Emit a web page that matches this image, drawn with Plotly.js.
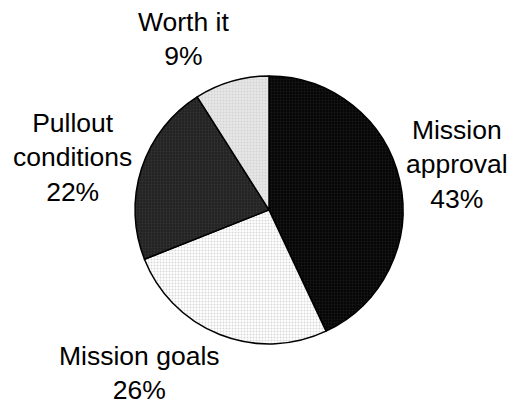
<!DOCTYPE html>
<html>
<head>
<meta charset="utf-8">
<script src="https://cdn.plot.ly/plotly-3.0.1.min.js"></script>
<style>html,body{margin:0;padding:0;background:#fff;}#chart{width:509px;height:406px;}</style>
</head>
<body>
<div id="chart"></div>
<script>
const labels = ["Mission approval", "Mission goals", "Pullout conditions", "Worth it"];
const displayLabels = ["Mission<br>approval", "Mission goals", "Pullout<br>conditions", "Worth it"];
const values = [43, 26, 22, 9];

const sliceColors = ["#050505", "#ffffff", "#222222", "#e6e6e6"];
const patternFg = ["#2e2e2e", "#b0b0b0", "#444444", "#c4c4c4"];
const labelX = [0.898, 0.275, 0.143, 0.36];
const labelY = [0.594, 0.081, 0.613, 0.905];

const total = values.reduce((a, b) => a + b, 0);
const annotations = labels.map((l, i) => ({
  xref: "paper", yref: "paper",
  x: labelX[i], y: labelY[i],
  xanchor: "center", yanchor: "middle",
  showarrow: false,
  borderpad: 0,
  text: displayLabels[i] + "<br>" + Math.round(values[i] / total * 100) + "%",
  font: {family: "Liberation Sans, Arial, sans-serif", size: 26.5, color: "#000"}
}));

const trace = {
  type: "pie",
  labels: labels,
  values: values,
  sort: false,
  direction: "clockwise",
  rotation: 0,
  textinfo: "none",
  hoverinfo: "label+percent",
  domain: {x: [0.265, 0.792], y: [0.153, 0.813]},
  marker: {
    colors: sliceColors,
    line: {color: "#000", width: 1.5},
    pattern: {shape: ".", fgcolor: patternFg, size: 3, solidity: 0.35, fillmode: "overlay"}
  }
};

Plotly.newPlot("chart", [trace], {
  width: 509, height: 406,
  margin: {l: 0, r: 0, t: 0, b: 0},
  paper_bgcolor: "#fff",
  showlegend: false,
  annotations: annotations
}, {displayModeBar: false, staticPlot: true});
</script>
</body>
</html>
